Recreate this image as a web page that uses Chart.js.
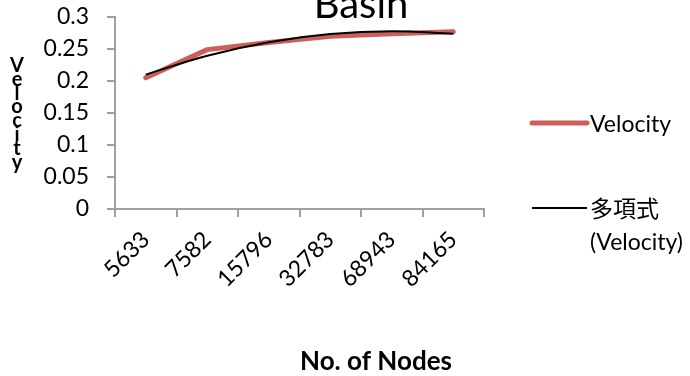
<!DOCTYPE html>
<html>
<head>
<meta charset="utf-8">
<script src="https://cdn.jsdelivr.net/npm/chart.js@4/dist/chart.umd.min.js"></script>
<style>
  html, body { margin: 0; padding: 0; background: #ffffff; }
  canvas { display: block; }
</style>
</head>
<body>
<canvas id="chart" width="690" height="376"></canvas>
<script>
// Node counts on the x axis
const nodeCounts = ['5633', '7582', '15796', '32783', '68943', '84165'];
// Measured velocity per mesh
const velocity = [0.205, 0.249, 0.260, 0.270, 0.274, 0.277];
// Polynomial trend line values at each mesh
const velocityTrend = [0.210, 0.2395, 0.2606, 0.2733, 0.2777, 0.2738];
// Y axis tick values
const yTicks = [0, 0.05, 0.1, 0.15, 0.2, 0.25, 0.3];

const chartTitle = 'Basin';
const xTitle = 'No. of Nodes';
const yTitle = 'Velocity';
const seriesLabels = [['Velocity'], ['多項式', '(Velocity)']];

const FONT = 'Lato, "Noto Sans CJK TC", "DejaVu Sans", sans-serif';
const AXIS_GREY = '#a0a0a0';
const RED = '#cd5f5a';

// Title, axis titles and the side legend
const textPlugin = {
  id: 'chartText',
  afterDraw(chart) {
    const ctx = chart.ctx;
    const area = chart.chartArea;
    ctx.save();
    ctx.fillStyle = '#000';

    // chart title
    ctx.font = '40px ' + FONT;
    ctx.textAlign = 'center';
    ctx.textBaseline = 'alphabetic';
    ctx.fillText(chartTitle, 361, 18);

    // x axis title
    ctx.font = 'bold 26px ' + FONT;
    ctx.textAlign = 'center';
    ctx.textBaseline = 'middle';
    ctx.fillText(xTitle, 376, 362);

    // y axis title, letters stacked
    ctx.font = 'bold 20px ' + FONT;
    ctx.textAlign = 'center';
    ctx.textBaseline = 'alphabetic';
    const letters = yTitle.split('');
    letters.forEach((ch, i) => {
      ctx.fillText(ch, 17, 72 + i * 13.8);
    });

    // legend
    const lx0 = area.right + 48, lx1 = area.right + 103, tx = area.right + 106;
    const rows = [123, 208];
    chart.data.datasets.forEach((ds, i) => {
      const y = rows[i];
      ctx.beginPath();
      ctx.strokeStyle = ds.borderColor;
      ctx.lineWidth = ds.borderWidth;
      ctx.lineCap = ds.borderCapStyle || 'butt';
      ctx.moveTo(lx0, y);
      ctx.lineTo(lx1, y);
      ctx.stroke();
      ctx.font = '23px ' + FONT;
      ctx.textAlign = 'left';
      ctx.textBaseline = 'middle';
      seriesLabels[i].forEach((t, j) => {
        ctx.fillText(t, tx, y + 2 + j * 33);
      });
    });
    ctx.restore();
  }
};

new Chart(document.getElementById('chart'), {
  type: 'line',
  data: {
    labels: nodeCounts,
    datasets: [
      {
        label: 'Velocity',
        data: velocity,
        borderColor: RED,
        backgroundColor: RED,
        borderWidth: 5,
        borderCapStyle: 'round',
        borderJoinStyle: 'round',
        pointRadius: 0,
        tension: 0,
        order: 2
      },
      {
        label: '多項式 (Velocity)',
        data: velocityTrend,
        borderColor: '#000000',
        backgroundColor: '#000000',
        borderWidth: 2,
        pointRadius: 0,
        tension: 0.4,
        order: 1
      }
    ]
  },
  options: {
    responsive: false,
    animation: false,
    devicePixelRatio: 1,
    layout: { padding: { top: 17, right: 206, left: 0, bottom: 0 } },
    plugins: {
      legend: { display: false },
      title: { display: false },
      tooltip: { enabled: false }
    },
    scales: {
      x: {
        type: 'category',
        offset: true,
        afterFit(scale) { scale.height = 167; },
        border: { display: true, color: AXIS_GREY, width: 2 },
        grid: { display: true, offset: true, drawOnChartArea: false, drawTicks: true, tickLength: 8, color: AXIS_GREY, lineWidth: 2 },
        ticks: { color: '#000', font: { family: FONT, size: 23 }, minRotation: 45, maxRotation: 45, padding: 9, autoSkip: false }
      },
      y: {
        min: 0,
        max: 0.3,
        afterFit(scale) {
          scale.width = 115;
          scale.paddingTop = 0;
          scale.paddingBottom = 0;
        },
        afterBuildTicks(scale) { scale.ticks = yTicks.map(v => ({ value: v })); },
        border: { display: true, color: AXIS_GREY, width: 2 },
        grid: { display: true, drawOnChartArea: false, drawTicks: true, tickLength: 8, color: AXIS_GREY, lineWidth: 2 },
        ticks: { color: '#000', font: { family: FONT, size: 23 }, padding: 18, autoSkip: false, callback: v => String(v) }
      }
    }
  },
  plugins: [textPlugin]
});
</script>
</body>
</html>
